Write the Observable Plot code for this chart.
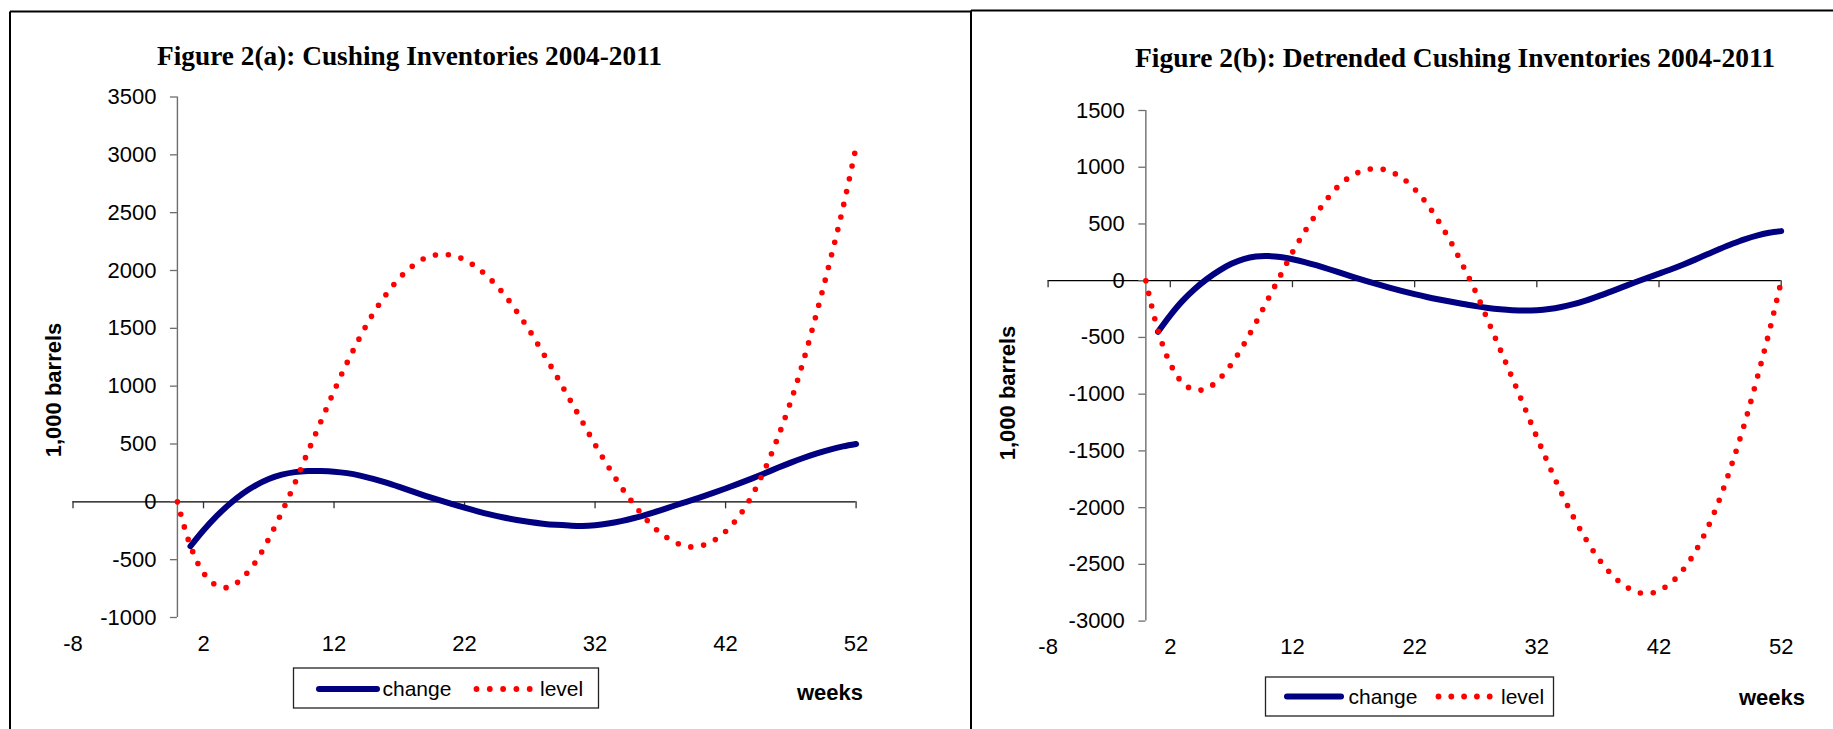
<!DOCTYPE html>
<html>
<head>
<meta charset="utf-8">
<script src="https://cdn.jsdelivr.net/npm/d3@7"></script>
<script src="https://cdn.jsdelivr.net/npm/@observablehq/plot@0.6"></script>
<style>
html,body{margin:0;padding:0;background:#fff;overflow:hidden;}
#page{position:relative;width:1833px;height:729px;overflow:hidden;background:#fff;}
#page .panel{position:absolute;top:0;}
#overlay{position:absolute;left:0;top:0;pointer-events:none;}
</style>
</head>
<body>
<div id="page"></div>
<script>
// ---- data ----
const weeks = [0,1,2,3,4,5,6,7,8,9,10,11,12,13,14,15,16,17,18,19,20,21,22,23,24,25,26,
  27,28,29,30,31,32,33,34,35,36,37,38,39,40,41,42,43,44,45,46,47,48,49,50,51,52];

const xTicks = [-8, 2, 12, 22, 32, 42, 52];
const xDomain = [-8, 52];

// Figure 2(a)
const titleA = "Figure 2(a): Cushing Inventories 2004-2011";
const yTicksA = [-1000, -500, 0, 500, 1000, 1500, 2000, 2500, 3000, 3500];
const changeA = [-384,-246,-124,-18,71,143,198,235,257,266,266,261,248,227,199,166,129,90,52,16,
  -18,-51,-82,-110,-135,-157,-175,-189,-199,-205,-208,-202,-188,-167,-140,-108,-73,-36,0,37,
  75,115,157,201,247,294,339,381,419,452,479,500];               // weeks 1..52
const levelA = [0,-381,-615,-722,-738,-655,-518,-319,-90,162,433,696,957,1203,1426,1628,1794,1933,
  2038,2108,2138,2132,2093,2021,1923,1798,1645,1477,1289,1098,897,698,496,307,129,-25,-162,-268,
  -341,-386,-383,-341,-257,-128,49,280,555,870,1232,1642,2081,2545,3070]; // weeks 0..52

// Figure 2(b)
const titleB = "Figure 2(b): Detrended Cushing Inventories 2004-2011";
const yTicksB = [-3000, -2500, -2000, -1500, -1000, -500, 0, 500, 1000, 1500];
const changeB = [-450,-305,-178,-73,15,89,149,191,213,217,208,189,164,134,101,66,31,-2,-33,-63,
  -92,-119,-144,-166,-186,-205,-224,-240,-252,-260,-263,-260,-250,-232,-207,-175,-138,-98,-57,-16,
  24,62,101,143,188,235,281,325,365,398,422,437];                // weeks 1..52
const levelB = [0,-440,-732,-899,-963,-950,-867,-736,-565,-371,-162,43,250,433,595,743,858,934,977,
  988,962,903,807,679,517,334,123,-100,-351,-605,-860,-1118,-1378,-1629,-1867,-2084,-2275,-2442,
  -2575,-2674,-2736,-2760,-2731,-2661,-2544,-2382,-2173,-1913,-1604,-1260,-872,-458,-5]; // weeks 0..52

const seriesNames = ["change", "level"];
const yLabel = "1,000 barrels";
const xLabel = "weeks";

const NAVY = "#000080", RED = "#ff0000";

function panel(o) {
  const changeData = o.change.map((v, i) => ({week: weeks[i + 1], value: v}));
  const levelData = o.level.map((v, i) => ({week: weeks[i], value: v}));
  const yDomain = [o.yTicks[0], o.yTicks[o.yTicks.length - 1]];
  const svg = Plot.plot({
    width: o.width, height: 729,
    marginLeft: o.ml, marginRight: o.mr, marginTop: o.mt, marginBottom: o.mb,
    style: {fontFamily: "'Liberation Sans', Arial, sans-serif", background: "transparent", overflow: "visible"},
    x: {domain: xDomain, axis: null},
    y: {domain: yDomain, axis: null},
    marks: [
      Plot.ruleY([0], {stroke: "#000", strokeWidth: 1.3}),
      Plot.ruleX(xTicks, {x: d => d, y1: 0, y2: 0, insetBottom: -7, stroke: "#333", strokeWidth: 1.3}),
      Plot.ruleX([0], {y1: yDomain[0], y2: yDomain[1], stroke: "#6e6e6e", strokeWidth: 1.4}),
      Plot.ruleY(o.yTicks, {y: d => d, x1: 0, x2: 0, insetLeft: -7, stroke: "#6e6e6e", strokeWidth: 1.3}),
      Plot.text(o.yTicks, {x: 0, y: d => d, text: d => String(d), textAnchor: "end", dx: -21, fontSize: 22, fill: "#000"}),
      Plot.text(xTicks, {x: d => d, text: d => String(d), frameAnchor: "bottom", dy: 33, fontSize: 22, fill: "#000"}),
      Plot.line(changeData, {x: "week", y: "value", stroke: NAVY, strokeWidth: 6, curve: "catmull-rom", strokeLinecap: "round"}),
      Plot.line(levelData, {x: "week", y: "value", stroke: RED, strokeWidth: 5.6, strokeDasharray: "0 13",
        strokeLinecap: "round", curve: "catmull-rom"})
    ]
  });
  svg.classList.add("panel");
  svg.style.left = o.left + "px";
  return svg;
}

const page = document.getElementById("page");
page.appendChild(panel({left: 0, width: 971, ml: 72.5, mr: 115.4, mt: 96.5, mb: 112,
  yTicks: yTicksA, change: changeA, level: levelA}));
page.appendChild(panel({left: 971, width: 862, ml: 76.6, mr: 52.3, mt: 110, mb: 108.4,
  yTicks: yTicksB, change: changeB, level: levelB}));

// ---- frames, titles, axis labels and legends ----
function legend(box, sw, chX, dots, lvX, base) {
  let s = `<rect x="${box[0]}" y="${box[1]}" width="${box[2]}" height="${box[3]}" fill="#fff" stroke="#222" stroke-width="1.3"/>`;
  s += `<line x1="${sw[0]}" y1="${sw[2]}" x2="${sw[1]}" y2="${sw[2]}" stroke="${NAVY}" stroke-width="6" stroke-linecap="round"/>`;
  s += `<text x="${chX}" y="${base}" font-size="21">${seriesNames[0]}</text>`;
  for (let i = 0; i < 5; i++) {
    s += `<circle cx="${dots[0] + i * dots[1]}" cy="${sw[2]}" r="2.9" fill="${RED}"/>`;
  }
  s += `<text x="${lvX}" y="${base}" font-size="21">${seriesNames[1]}</text>`;
  return s;
}

const ov = `
<svg id="overlay" width="1833" height="729" xmlns="http://www.w3.org/2000/svg"
     font-family="'Liberation Sans', Arial, sans-serif" fill="#000">
  <line x1="10" y1="11.5" x2="10" y2="729" stroke="#000" stroke-width="2"/>
  <line x1="10" y1="11.5" x2="971" y2="11.5" stroke="#000" stroke-width="2"/>
  <line x1="971" y1="10.5" x2="971" y2="729" stroke="#000" stroke-width="2"/>
  <line x1="971" y1="10.5" x2="1833" y2="10.5" stroke="#000" stroke-width="2"/>
  <text x="157" y="65" font-family="'Liberation Serif', 'Times New Roman', serif" font-weight="bold"
        font-size="27.5" textLength="505" lengthAdjust="spacingAndGlyphs">${titleA}</text>
  <text x="1135" y="66.5" font-family="'Liberation Serif', 'Times New Roman', serif" font-weight="bold"
        font-size="27.5" textLength="640" lengthAdjust="spacingAndGlyphs">${titleB}</text>
  <text transform="translate(60.5,390) rotate(-90)" text-anchor="middle" font-weight="bold" font-size="22">${yLabel}</text>
  <text transform="translate(1015,393) rotate(-90)" text-anchor="middle" font-weight="bold" font-size="22">${yLabel}</text>
  <text x="797" y="700" font-weight="bold" font-size="22">${xLabel}</text>
  <text x="1739" y="705" font-weight="bold" font-size="22">${xLabel}</text>
  ${legend([293.5, 668, 305, 40], [319, 377, 689], 382.5, [476.5, 13.3], 540, 696)}
  ${legend([1265.5, 677, 288, 39], [1287, 1341, 696.5], 1348.5, [1438.5, 12.8], 1501, 704)}
</svg>`;
page.insertAdjacentHTML("beforeend", ov);
</script>
</body>
</html>
